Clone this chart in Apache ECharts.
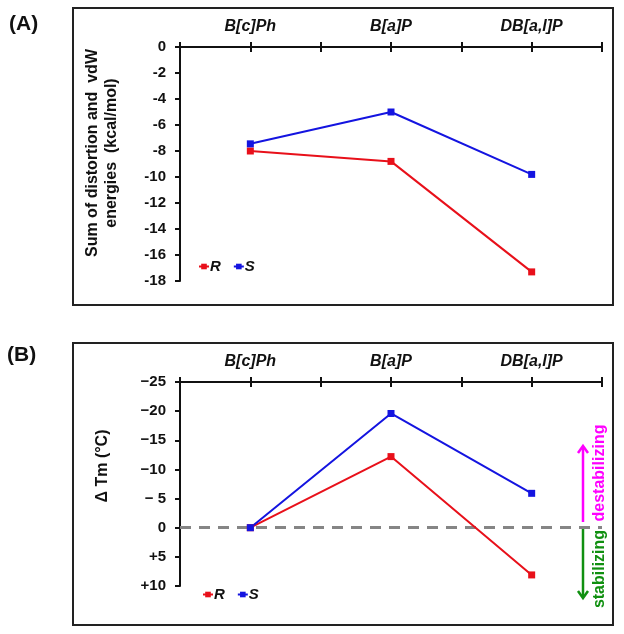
<!DOCTYPE html>
<html><head><meta charset="utf-8">
<script src="https://cdn.jsdelivr.net/npm/echarts@6/dist/echarts.min.js"></script>
<style>html,body{margin:0;padding:0;background:#fff}#c{width:624px;height:634px}</style>
</head><body><div id="c"></div>
<script>
// ---- data ----
const categories = ['B[c]Ph', 'B[a]P', 'DB[a,l]P'];
const seriesNames = ['R', 'S'];
const energyR = [-8.0, -8.8, -17.3];
const energyS = [-7.45, -5.0, -9.8];
const dTmR = [0, -12.2, 8.1];
const dTmS = [0, -19.6, -5.9];
const dTmTickValues = [-25, -20, -15, -10, -5, 0, 5, 10];
const dTmTickLabels = ['\u221225', '\u221220', '\u221215', '\u221210', '\u2212 5', '0', '+5', '+10'];

const FONT = 'Liberation Sans, Arial, sans-serif';
const RED = '#e8101a', BLUE = '#1414e0';
const chart = echarts.init(document.getElementById('c'), null, {renderer: 'canvas'});

function catAxes(gi) {
  const base = {gridIndex: gi, type: 'category', data: categories, position: 'top', boundaryGap: true};
  const axes = [
    Object.assign({}, base, {
      axisLine: {show: true, onZero: false, lineStyle: {color: '#111', width: 2}},
      axisTick: {show: false},
      axisLabel: {show: true, margin: 12, fontFamily: FONT, fontSize: 16, fontWeight: 'bold', fontStyle: 'italic', color: '#111'}
    })
  ];
  [false, true].forEach(align => {
    [false, true].forEach(inside => {
      axes.push(Object.assign({}, base, {
        axisLine: {show: false, onZero: false},
        axisTick: {show: true, length: 5, inside: inside, interval: 0, alignWithLabel: align, lineStyle: {color: '#111', width: 2}},
        axisLabel: {show: false}
      }));
    });
  });
  return axes;
}
const yCommon = {
  type: 'value',
  axisLine: {show: true, onZero: false, lineStyle: {color: '#111', width: 2}},
  axisTick: {show: true, length: 5, lineStyle: {color: '#111', width: 2}},
  splitLine: {show: false}
};
const labelStyle = {margin: 14, fontFamily: FONT, fontSize: 15, fontWeight: 'bold', color: '#111'};

function lineSeries(name, data, xi, yi, color, extra) {
  return Object.assign({
    name: name, type: 'line', data: data, xAxisIndex: xi, yAxisIndex: yi,
    symbol: 'rect', symbolSize: 7, showSymbol: true, z: 3,
    lineStyle: {color: color, width: 2}, itemStyle: {color: color},
    animation: false
  }, extra || {});
}

const legendCommon = {
  itemWidth: 10, itemHeight: 7, itemGap: 12, orient: 'horizontal',
  textStyle: {fontFamily: FONT, fontSize: 15, fontWeight: 'bold', fontStyle: 'italic', color: '#111', padding: [0, 0, 0, -4]},
  selectedMode: false
};

const option = {
  backgroundColor: '#fff',
  animation: false,
  grid: [
    {left: 180, top: 47, width: 422, height: 234},
    {left: 180, top: 382, width: 422, height: 204}
  ],
  xAxis: catAxes(0).concat(catAxes(1)),
  yAxis: [
    Object.assign({}, yCommon, {gridIndex: 0, min: -18, max: 0, interval: 2, axisLabel: labelStyle}),
    Object.assign({}, yCommon, {gridIndex: 1, min: -25, max: 10, interval: 5, inverse: true,
      axisLabel: Object.assign({}, labelStyle, {
        formatter: v => { const i = dTmTickValues.indexOf(v); return i >= 0 ? dTmTickLabels[i] : ''; }
      })})
  ],
  legend: [
    Object.assign({}, legendCommon, {left: 193, top: 254, data: seriesNames}),
    Object.assign({}, legendCommon, {left: 197, top: 582, data: seriesNames})
  ],
  series: [
    lineSeries('R', energyR, 0, 0, RED),
    lineSeries('S', energyS, 0, 0, BLUE),
    lineSeries('R', dTmR, 5, 1, RED, {
      markLine: {silent: true, symbol: 'none', label: {show: false}, z: 1,
        lineStyle: {color: '#858585', width: 3, type: [11, 8]}, data: [{yAxis: 0}]}
    }),
    lineSeries('S', dTmS, 5, 1, BLUE)
  ],
  graphic: [
    {type: 'rect', shape: {x: 73, y: 8, width: 540, height: 297}, style: {fill: 'none', stroke: '#222', lineWidth: 2}},
    {type: 'rect', shape: {x: 73, y: 343, width: 540, height: 282}, style: {fill: 'none', stroke: '#222', lineWidth: 2}},
    {type: 'text', x: 9, y: 24, style: {text: '(A)', font: 'bold 21px ' + FONT, fill: '#111', textVerticalAlign: 'middle'}},
    {type: 'text', x: 7, y: 355, style: {text: '(B)', font: 'bold 21px ' + FONT, fill: '#111', textVerticalAlign: 'middle'}},
    {type: 'text', x: 102, y: 153, rotation: Math.PI / 2,
      style: {text: 'Sum of distortion and  vdW\nenergies  (kcal/mol)', font: 'bold 16px ' + FONT, fill: '#111',
        textAlign: 'center', textVerticalAlign: 'middle', lineHeight: 19}},
    {type: 'text', x: 103, y: 466, rotation: Math.PI / 2,
      style: {text: '\u0394 Tm (\u00b0C)', font: 'bold 16px ' + FONT, fill: '#111', textAlign: 'center', textVerticalAlign: 'middle'}},
    // destabilizing arrow
    {type: 'line', shape: {x1: 583, y1: 522, x2: 583, y2: 447}, style: {stroke: '#ff00ff', lineWidth: 2.5}},
    {type: 'polyline', shape: {points: [[578, 453], [583, 446], [588, 453]]}, style: {stroke: '#ff00ff', lineWidth: 2.5, fill: 'none'}},
    {type: 'text', x: 600, y: 473, rotation: Math.PI / 2,
      style: {text: 'destabilizing', font: 'bold 16px ' + FONT, fill: '#ff00ff', textAlign: 'center', textVerticalAlign: 'middle'}},
    // stabilizing arrow
    {type: 'line', shape: {x1: 583, y1: 528, x2: 583, y2: 597}, style: {stroke: '#109010', lineWidth: 2.5}},
    {type: 'polyline', shape: {points: [[578, 591], [583, 598], [588, 591]]}, style: {stroke: '#109010', lineWidth: 2.5, fill: 'none'}},
    {type: 'text', x: 600, y: 569, rotation: Math.PI / 2,
      style: {text: 'stabilizing', font: 'bold 16px ' + FONT, fill: '#109010', textAlign: 'center', textVerticalAlign: 'middle'}}
  ]
};
chart.setOption(option);
</script>
</body></html>
